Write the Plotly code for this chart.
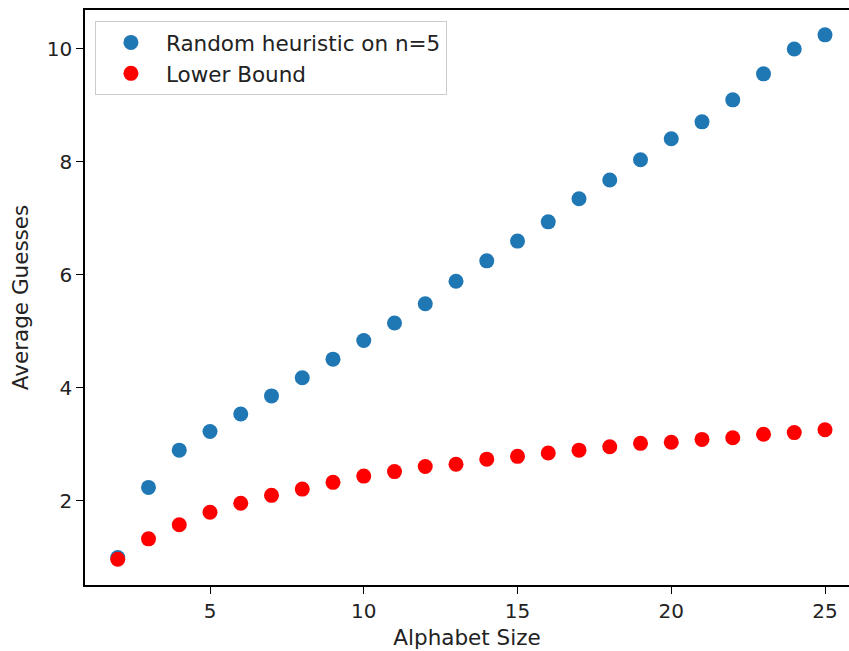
import plotly.graph_objects as go

alphabet_size = list(range(2, 26))
random_heuristic = [1.00, 2.24, 2.90, 3.23, 3.54, 3.86, 4.18, 4.51, 4.84, 5.15, 5.49, 5.89,
                    6.25, 6.60, 6.94, 7.35, 7.68, 8.04, 8.41, 8.71, 9.10, 9.56, 10.00, 10.25]
lower_bound = [0.97, 1.33, 1.58, 1.80, 1.96, 2.10, 2.21, 2.33, 2.44, 2.52, 2.61, 2.65,
               2.74, 2.79, 2.85, 2.90, 2.96, 3.02, 3.04, 3.09, 3.12, 3.18, 3.21, 3.26]

FONT = "DejaVu Sans"
fig = go.Figure()
fig.add_trace(go.Scatter(x=alphabet_size, y=random_heuristic, mode="markers",
                         name="Random heuristic on n=5",
                         marker=dict(color="#1f77b4", size=15, line=dict(width=0))))
fig.add_trace(go.Scatter(x=alphabet_size, y=lower_bound, mode="markers",
                         name="Lower Bound",
                         marker=dict(color="#ff0000", size=15, line=dict(width=0))))

fig.update_layout(
    width=849, height=651,
    margin=dict(l=85, r=0, t=10, b=66),
    plot_bgcolor="white", paper_bgcolor="white",
    font=dict(family=FONT, size=20, color="#222"),
    showlegend=True,
    legend=dict(x=0.013, y=0.981, xanchor="left", yanchor="top",
                bgcolor="rgba(255,255,255,0.8)", bordercolor="#cccccc", borderwidth=1,
                font=dict(family=FONT, size=21.5, color="#222"),
                itemwidth=60, tracegroupgap=0),
    xaxis=dict(range=[0.935, 25.78], tickvals=[5, 10, 15, 20, 25],
               showgrid=False, zeroline=False, showline=True, linecolor="black", linewidth=1.5,
               mirror=True, ticks="outside", ticklen=7, tickcolor="black",
               title=dict(text="Alphabet Size", standoff=8,
                          font=dict(family=FONT, size=21.5, color="#222"))),
    yaxis=dict(range=[0.513, 10.69], tickvals=[2, 4, 6, 8, 10],
               showgrid=False, zeroline=False, showline=True, linecolor="black", linewidth=1.5,
               mirror=False, ticks="outside", ticklen=7, tickcolor="black",
               title=dict(text="Average Guesses", standoff=12,
                          font=dict(family=FONT, size=21.5, color="#222"))),
)

fig.write_html("out.html")
